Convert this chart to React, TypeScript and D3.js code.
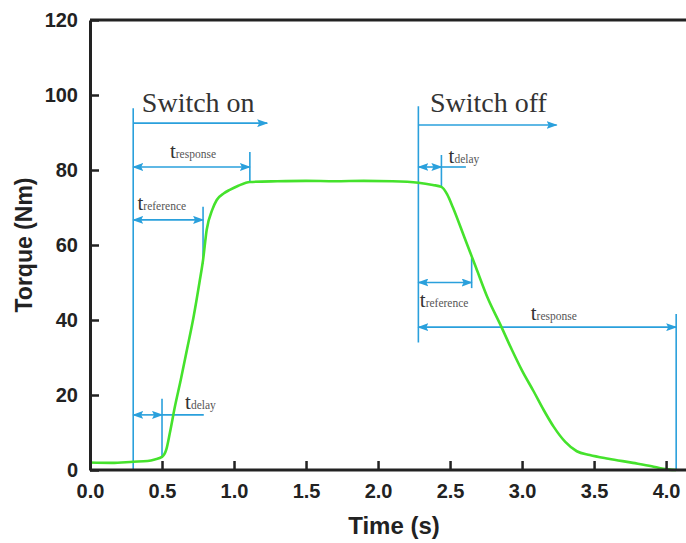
import React, { useEffect, useRef } from 'react';
import * as d3 from 'd3';

const timeS = [0, 0.15, 0.3, 0.4, 0.45, 0.5, 0.53, 0.555, 0.59, 0.63, 0.67, 0.72, 0.76, 0.785, 0.81, 0.85, 0.88, 0.93, 0.97, 1.03, 1.11, 1.3, 1.5, 1.7, 1.9, 2.1, 2.28, 2.38, 2.44, 2.48, 2.52, 2.6, 2.68, 2.76, 2.85, 2.93, 3.0, 3.08, 3.15, 3.22, 3.3, 3.38, 3.47, 3.6, 3.77, 3.9, 3.98, 4.07];
const torqueNm = [2.0, 1.9, 2.2, 2.4, 2.8, 3.5, 5.5, 10, 17, 24, 31.5, 41, 50, 56, 64, 69.5, 72, 73.8, 74.7, 75.8, 76.8, 77, 77.1, 77, 77.1, 77, 76.6, 76, 75.5, 73.5, 70, 62, 54, 46, 38.7, 32, 26.5, 21, 16, 11.5, 7.5, 5, 4, 3, 1.9, 1, 0.3, 0];

const xTicks = [0, 0.5, 1, 1.5, 2, 2.5, 3, 3.5, 4];
const yTicks = [0, 20, 40, 60, 80, 100, 120];

// blue guide lines: [time, from, to]
const guideLines = [
  [0.3, 0, 96.5], [1.11, 76.8, 84.8], [0.785, 55, 70.2], [0.5, 3.5, 19],
  [2.28, 34, 97], [2.44, 75.5, 84], [2.65, 48.5, 56.5], [4.07, 0, 41.6],
];

// arrows: [from, to, torque level, heads]
const arrows: [number, number, number, string][] = [
  [0.3, 1.23, 92.5, 'end'],
  [0.3, 1.11, 80.8, 'both'],
  [0.3, 0.785, 66.7, 'both'],
  [0.3, 0.5, 14.7, 'both'],
  [0.5, 0.79, 14.7, 'none'],
  [2.28, 3.24, 92, 'end'],
  [2.28, 2.44, 80.8, 'both'],
  [2.44, 2.61, 80.8, 'none'],
  [2.28, 2.65, 50, 'both'],
  [2.28, 4.07, 38.1, 'both'],
];

const subLabels = [
  { sub: 'response', t: 0.555, v: 83.2 },
  { sub: 'reference', t: 0.33, v: 69.3 },
  { sub: 'delay', t: 0.66, v: 16.3 },
  { sub: 'delay', t: 2.49, v: 82 },
  { sub: 'reference', t: 2.29, v: 43.5 },
  { sub: 'response', t: 3.06, v: 40 },
];

const bigLabels = [
  { text: 'Switch on', t: 0.36, v: 95.5 },
  { text: 'Switch off', t: 2.36, v: 95.5 },
];

const BLUE = '#2aa0dc';
const GREEN = '#45e22c';
const SANS = '"Liberation Sans", Arial, sans-serif';
const SERIF = '"Liberation Serif", "Times New Roman", serif';

const App = () => {
  const svgRef = useRef<SVGSVGElement>(null);

  useEffect(() => {
    const svg = d3.select(svgRef.current);
    svg.selectAll('*').remove();

    const width = 686;
    const height = 543;
    const margin = { top: 20, right: -4, bottom: 73, left: 90 };

    const x = d3.scaleLinear().domain([0, 4.166]).range([margin.left, width - margin.right]);
    const y = d3.scaleLinear().domain([0, 120]).range([height - margin.bottom, margin.top]);

    const defs = svg.append('defs');
    defs.append('marker')
      .attr('id', 'arr')
      .attr('markerUnits', 'userSpaceOnUse')
      .attr('markerWidth', 11)
      .attr('markerHeight', 8)
      .attr('refX', 10)
      .attr('refY', 4)
      .attr('orient', 'auto-start-reverse')
      .append('path')
      .attr('d', 'M0,0 L11,4 L0,8 L2,4 Z')
      .attr('fill', BLUE);

    // top frame line
    svg.append('line')
      .attr('x1', x(0)).attr('x2', width)
      .attr('y1', y(120)).attr('y2', y(120))
      .attr('stroke', '#222').attr('stroke-width', 3);

    // guide lines
    svg.selectAll('.guide')
      .data(guideLines)
      .enter()
      .append('line')
      .attr('x1', d => x(d[0])).attr('x2', d => x(d[0]))
      .attr('y1', d => y(d[1])).attr('y2', d => y(d[2]))
      .attr('stroke', BLUE).attr('stroke-width', 1.6);

    svg.selectAll('.arrow')
      .data(arrows)
      .enter()
      .append('line')
      .attr('x1', d => x(d[0])).attr('x2', d => x(d[1]))
      .attr('y1', d => y(d[2])).attr('y2', d => y(d[2]))
      .attr('stroke', BLUE).attr('stroke-width', 1.6)
      .attr('marker-end', d => (d[3] === 'none' ? null : 'url(#arr)'))
      .attr('marker-start', d => (d[3] === 'both' ? 'url(#arr)' : null));

    // torque curve
    const line = d3.line<number>()
      .x((d, i) => x(timeS[i]))
      .y(d => y(d))
      .curve(d3.curveMonotoneX);

    svg.append('path')
      .datum(torqueNm)
      .attr('d', line)
      .attr('fill', 'none')
      .attr('stroke', GREEN)
      .attr('stroke-width', 2.6);

    // t_xxx labels
    const lab = svg.selectAll('.lab')
      .data(subLabels)
      .enter()
      .append('text')
      .attr('x', d => x(d.t))
      .attr('y', d => y(d.v))
      .attr('font-family', SERIF)
      .attr('fill', '#333');
    lab.append('tspan').attr('font-size', 21).text('t');
    lab.append('tspan').attr('font-size', 11.5).attr('fill', '#555').text(d => d.sub);

    svg.selectAll('.big')
      .data(bigLabels)
      .enter()
      .append('text')
      .attr('x', d => x(d.t))
      .attr('y', d => y(d.v))
      .attr('font-family', SERIF)
      .attr('font-size', 28)
      .attr('fill', '#333')
      .text(d => d.text);

    // axes
    const xAxis = svg.append('g')
      .attr('transform', `translate(0,${y(0)})`)
      .call(d3.axisBottom(x).tickValues(xTicks).tickSizeInner(-9).tickSizeOuter(0).tickPadding(14).tickFormat(d3.format('.1f')));
    const yAxis = svg.append('g')
      .attr('transform', `translate(${x(0)},0)`)
      .call(d3.axisLeft(y).tickValues(yTicks).tickSizeInner(-9).tickSizeOuter(0).tickPadding(12));

    [xAxis, yAxis].forEach(g => {
      g.select('.domain').attr('stroke', '#222').attr('stroke-width', 3);
      g.selectAll('.tick line').attr('stroke', '#222').attr('stroke-width', 2.5);
      g.selectAll('.tick text')
        .attr('fill', '#222')
        .style('font-family', SANS)
        .style('font-weight', 'bold')
        .style('font-size', '20px');
    });
    xAxis.select('.domain').attr('d', `M${x(0)},0H${width}`);

    svg.append('text')
      .attr('x', 394)
      .attr('y', 534)
      .attr('text-anchor', 'middle')
      .attr('font-family', SANS)
      .attr('font-weight', 'bold')
      .attr('font-size', 24)
      .attr('fill', '#222')
      .text('Time (s)');

    svg.append('text')
      .attr('transform', 'translate(32,245) rotate(-90)')
      .attr('text-anchor', 'middle')
      .attr('font-family', SANS)
      .attr('font-weight', 'bold')
      .attr('font-size', 23)
      .attr('fill', '#222')
      .text('Torque (Nm)');
  }, []);

  return (
    <svg ref={svgRef} width={686} height={543} style={{ position: 'absolute', left: 0, top: 0, background: '#fff' }} />
  );
};

export default App;
